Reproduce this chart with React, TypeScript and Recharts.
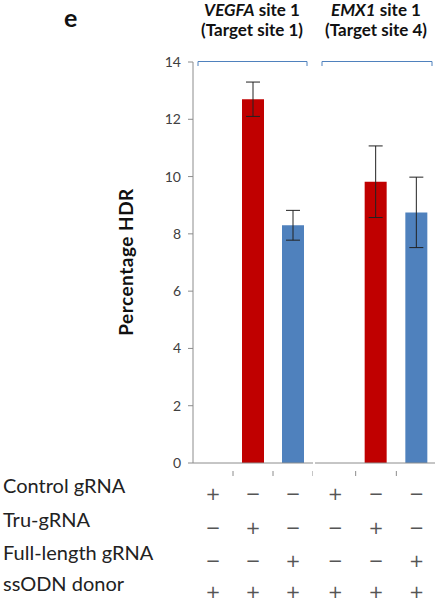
import React from 'react'
import { BarChart, Bar, XAxis, YAxis, ErrorBar, Cell } from 'recharts'

// conditions shared by both target sites
const conditions = ['Control gRNA', 'Tru-gRNA', 'Full-length gRNA']
const rowLabels = ['Control gRNA', 'Tru-gRNA', 'Full-length gRNA', 'ssODN donor']

// +/- table, one array per row, six columns (3 per site)
const controlRow = ['+', '−', '−', '+', '−', '−']
const truRow = ['−', '+', '−', '−', '+', '−']
const fullRow = ['−', '−', '+', '−', '−', '+']
const donorRow = ['+', '+', '+', '+', '+', '+']

const vegfaHdr = [0, 12.7, 8.3]
const vegfaErr = [0, 0.6, 0.52]
const emx1Hdr = [0, 9.82, 8.75]
const emx1Err = [0, 1.25, 1.23]

const yTicks = [0, 2, 4, 6, 8, 10, 12, 14]
const barColors = ['#C00000', '#C00000', '#4F81BD']

const FONT = 'Lato, "Liberation Sans", sans-serif'
const TOP = 62
const AXIS_H = 137
const H = 600

const makeData = (hdr: number[], err: number[]) =>
  conditions.map((c, i) => ({ condition: c, hdr: hdr[i], err: err[i] }))

const PlusMinusTick = (props: any) => {
  const { x, y, index, offsetCol, band } = props
  const rows = [controlRow, truRow, fullRow, donorRow]
  const dys = [22, 56, 89, 120]
  return (
    <g>
      <line x1={x + band / 2} x2={x + band / 2} y1={y} y2={y + 5} stroke="#8c8c8c" />
      {rows.map((r, i) => (
        <text key={i} x={x} y={y + dys[i]} textAnchor="middle" dominantBaseline="central"
          fontSize={18} fill="#555" fontFamily='"DejaVu Sans", sans-serif'>
          {r[offsetCol + index]}
        </text>
      ))}
    </g>
  )
}

const SiteChart = ({ data, left, width, offsetCol, showY }: any) => {
  const yW = showY ? 193 : 0
  const band = (width - yW) / data.length
  return (
    <div style={{ position: 'absolute', left, top: 0 }}>
      <BarChart width={width} height={H} data={data}
        margin={{ top: TOP, right: 0, bottom: 0, left: 0 }} barSize={22}>
        <YAxis hide={!showY} width={yW} domain={[0, 14]} ticks={yTicks} interval={0}
          axisLine={{ stroke: '#8c8c8c' }} tickLine={{ stroke: '#8c8c8c' }} tickSize={5} tickMargin={7}
          tick={{ fill: '#404040', fontSize: 14, fontFamily: FONT }} />
        <XAxis dataKey="condition" height={AXIS_H} interval={0} tickLine={false}
          axisLine={{ stroke: '#8c8c8c' }}
          tick={<PlusMinusTick offsetCol={offsetCol} band={band} />} />
        <Bar dataKey="hdr" isAnimationActive={false}>
          {data.map((d: any, i: number) => <Cell key={i} fill={barColors[i]} />)}
          <ErrorBar dataKey="err" width={7} stroke="#222" strokeWidth={1} direction="y" />
        </Bar>
      </BarChart>
    </div>
  )
}

const Title = ({ gene, site, cx }: any) => (
  <div style={{ position: 'absolute', left: cx - 75, width: 150, top: 0, textAlign: 'center',
    fontWeight: 'bold', fontSize: 17, lineHeight: '20px', color: '#111' }}>
    <div><i>{gene}</i> site 1</div>
    <div>(Target site {site})</div>
  </div>
)

const App = () => {
  const brackets = [[198, 307], [322, 432]]
  return (
    <div style={{ position: 'absolute', left: 0, top: 0, width: 435, height: H, overflow: 'hidden',
      background: '#fff', fontFamily: FONT }}>
      <SiteChart data={makeData(vegfaHdr, vegfaErr)} left={0} width={313} offsetCol={0} showY />
      <SiteChart data={makeData(emx1Hdr, emx1Err)} left={315} width={122} offsetCol={3} showY={false} />
      <svg width={435} height={80} style={{ position: 'absolute', left: 0, top: 0 }}>
        {brackets.map(([a, b], i) => (
          <path key={i} d={`M${a},66 V61.5 H${b} V66`} fill="none" stroke="#4F81BD" strokeWidth={1} />
        ))}
      </svg>
      <div style={{ position: 'absolute', left: 64, top: 2, fontWeight: 'bold', fontSize: 25, color: '#111' }}>e</div>
      <Title gene="VEGFA" site={1} cx={252} />
      <Title gene="EMX1" site={4} cx={376} />
      <div style={{ position: 'absolute', left: 125, top: 262, transform: 'translate(-50%, -50%) rotate(-90deg)',
        whiteSpace: 'nowrap', fontWeight: 'bold', fontSize: 19, letterSpacing: 0.5, color: '#111' }}>Percentage HDR</div>
      {rowLabels.map((l, i) => (
        <div key={l} style={{ position: 'absolute', left: 3, top: [485, 519, 552, 583][i] - 13,
          fontSize: 20, lineHeight: '26px', color: '#222' }}>{l}</div>
      ))}
    </div>
  )
}

export default App
